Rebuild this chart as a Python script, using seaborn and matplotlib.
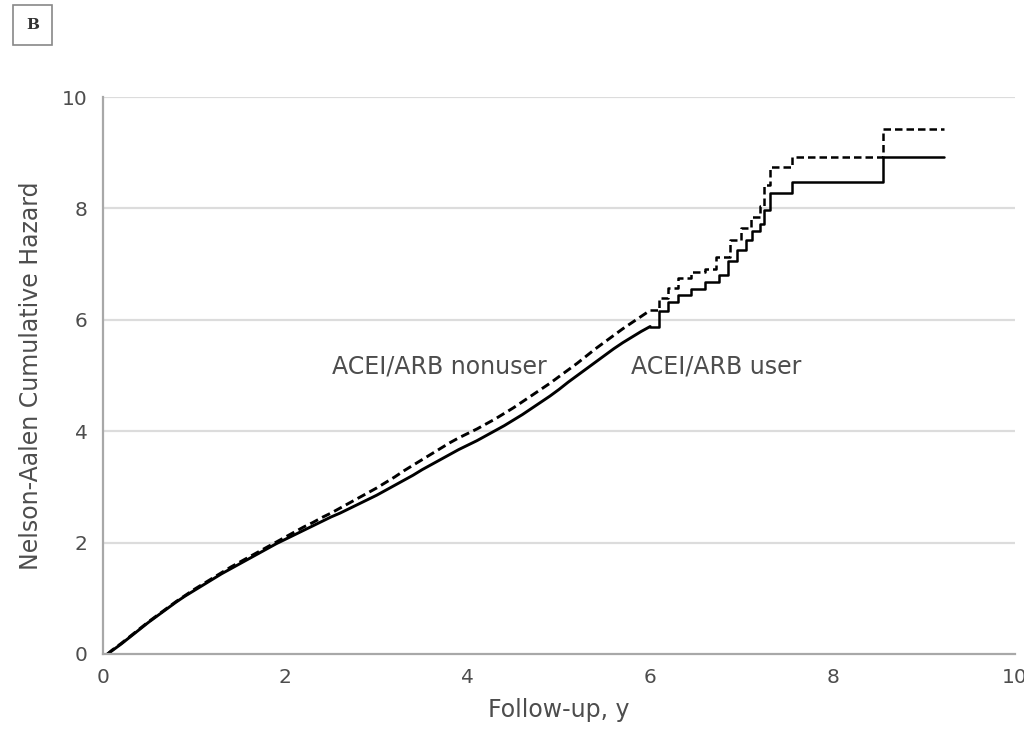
import numpy as np
import pandas as pd
import matplotlib
matplotlib.use("Agg")
import matplotlib.pyplot as plt
import seaborn as sns

# Nelson-Aalen cumulative hazard (follow-up in years); dense early section
user_time = [0.05, 0.1, 0.2, 0.3, 0.4, 0.5, 0.6, 0.7, 0.8, 0.9, 1.0, 1.1, 1.2, 1.3, 1.4,
             1.5, 1.6, 1.7, 1.8, 1.9, 2.0, 2.1, 2.2, 2.3, 2.4, 2.5, 2.6, 2.7, 2.8, 2.9,
             3.0, 3.1, 3.2, 3.3, 3.4, 3.5, 3.6, 3.7, 3.8, 3.9, 4.0, 4.1, 4.2, 4.3, 4.4,
             4.5, 4.6, 4.7, 4.8, 4.9, 5.0, 5.1, 5.2, 5.3, 5.4, 5.5, 5.6, 5.7, 5.8, 5.9,
             6.0]
user_hazard = [0.00, 0.06, 0.18, 0.31, 0.44, 0.57, 0.69, 0.81, 0.93, 1.04, 1.14, 1.24, 1.34, 1.44, 1.53,
               1.62, 1.71, 1.80, 1.89, 1.98, 2.06, 2.14, 2.22, 2.30, 2.38, 2.46, 2.53, 2.61, 2.69, 2.77,
               2.85, 2.94, 3.03, 3.12, 3.21, 3.31, 3.40, 3.49, 3.58, 3.67, 3.75, 3.83, 3.92, 4.01, 4.10,
               4.20, 4.30, 4.41, 4.52, 4.63, 4.75, 4.88, 5.00, 5.12, 5.24, 5.36, 5.48, 5.59, 5.69, 5.79,
               5.88]
# later, sparser event times drawn as explicit steps
user_step_time = [6.0, 6.1, 6.2, 6.3, 6.45, 6.6, 6.75, 6.85, 6.95, 7.05, 7.12, 7.2, 7.25, 7.31,
                  7.56, 8.55, 9.22]
user_step_hazard = [5.88, 6.15, 6.32, 6.45, 6.55, 6.68, 6.80, 7.05, 7.25, 7.43, 7.60, 7.72, 7.97, 8.28,
                    8.48, 8.92, 8.92]

nonuser_time = [0.05, 0.1, 0.2, 0.3, 0.4, 0.5, 0.6, 0.7, 0.8, 0.9, 1.0, 1.1, 1.2, 1.3, 1.4,
                1.5, 1.6, 1.7, 1.8, 1.9, 2.0, 2.1, 2.2, 2.3, 2.4, 2.5, 2.6, 2.7, 2.8, 2.9,
                3.0, 3.1, 3.2, 3.3, 3.4, 3.5, 3.6, 3.7, 3.8, 3.9, 4.0, 4.1, 4.2, 4.3, 4.4,
                4.5, 4.6, 4.7, 4.8, 4.9, 5.0, 5.1, 5.2, 5.3, 5.4, 5.5, 5.6, 5.7, 5.8, 5.9,
                6.0]
nonuser_hazard = [0.00, 0.07, 0.19, 0.32, 0.45, 0.58, 0.70, 0.82, 0.94, 1.05, 1.16, 1.26, 1.36, 1.46, 1.56,
                  1.65, 1.74, 1.83, 1.92, 2.01, 2.10, 2.19, 2.28, 2.36, 2.45, 2.53, 2.62, 2.71, 2.80, 2.89,
                  2.98, 3.08, 3.18, 3.29, 3.39, 3.49, 3.59, 3.69, 3.79, 3.88, 3.96, 4.04, 4.13, 4.22, 4.32,
                  4.42, 4.53, 4.64, 4.75, 4.86, 4.98, 5.10, 5.22, 5.35, 5.48, 5.60, 5.72, 5.84, 5.95, 6.06,
                  6.17]
nonuser_step_time = [6.0, 6.1, 6.2, 6.3, 6.45, 6.6, 6.72, 6.87, 7.0, 7.1, 7.2, 7.25, 7.31,
                     7.56, 8.55, 9.22]
nonuser_step_hazard = [6.17, 6.40, 6.58, 6.75, 6.85, 6.92, 7.13, 7.43, 7.65, 7.85, 8.05, 8.42, 8.74,
                       8.92, 9.43, 9.43]

x_ticks = [0, 2, 4, 6, 8, 10]
y_ticks = [0, 2, 4, 6, 8, 10]

sns.set_theme(style="white")
plt.rcParams["font.family"] = ["DejaVu Sans"]

grey_text = "#4d4d4d"
axis_grey = "#a8a8a8"
dash = (0, (3, 1.6))

fig = plt.figure(figsize=(10.24, 7.43), dpi=100)
ax = fig.add_axes([0.1006, 0.1198, 0.8906, 0.7496])

for y in y_ticks[1:]:
    ax.axhline(y, color="#dcdcdc", lw=1.6, zorder=0)

sns.lineplot(x=user_time, y=user_hazard, ax=ax, color="black", lw=2.1,
             estimator=None, sort=False)
sns.lineplot(x=user_step_time, y=user_step_hazard, ax=ax, color="black", lw=1.8,
             drawstyle="steps-post", estimator=None, sort=False)
sns.lineplot(x=nonuser_time, y=nonuser_hazard, ax=ax, color="black", lw=2.1,
             estimator=None, sort=False, linestyle=dash)
sns.lineplot(x=nonuser_step_time, y=nonuser_step_hazard, ax=ax, color="black", lw=1.8,
             drawstyle="steps-post", estimator=None, sort=False, linestyle=dash)

ax.set_xlim(0, 10)
ax.set_ylim(0, 10)
ax.set_xticks(x_ticks)
ax.set_yticks(y_ticks)
ax.tick_params(axis="both", labelsize=14.5, colors=grey_text, length=5, width=1,
               color=axis_grey, direction="out")
ax.tick_params(axis="x", pad=5)
ax.tick_params(axis="y", pad=6)
for side in ["top", "right"]:
    ax.spines[side].set_visible(False)
for side in ["left", "bottom"]:
    ax.spines[side].set_color(axis_grey)
    ax.spines[side].set_linewidth(1.6)

ax.set_xlabel("Follow-up, y", fontsize=17, color=grey_text, labelpad=8)
ax.set_ylabel("Nelson-Aalen Cumulative Hazard", fontsize=17, color=grey_text, labelpad=14)

ax.text(3.69, 5.17, "ACEI/ARB nonuser", fontsize=17, color=grey_text, ha="center", va="center")
ax.text(6.72, 5.17, "ACEI/ARB user", fontsize=17, color=grey_text, ha="center", va="center")

fig.text(0.0322, 0.967, "B", fontsize=11, fontweight="bold", color="#333333",
         ha="center", va="center", family="DejaVu Serif",
         bbox=dict(boxstyle="square,pad=0.85", fc="white", ec="#888888", lw=1.2))

fig.savefig("out.png", dpi=100)
